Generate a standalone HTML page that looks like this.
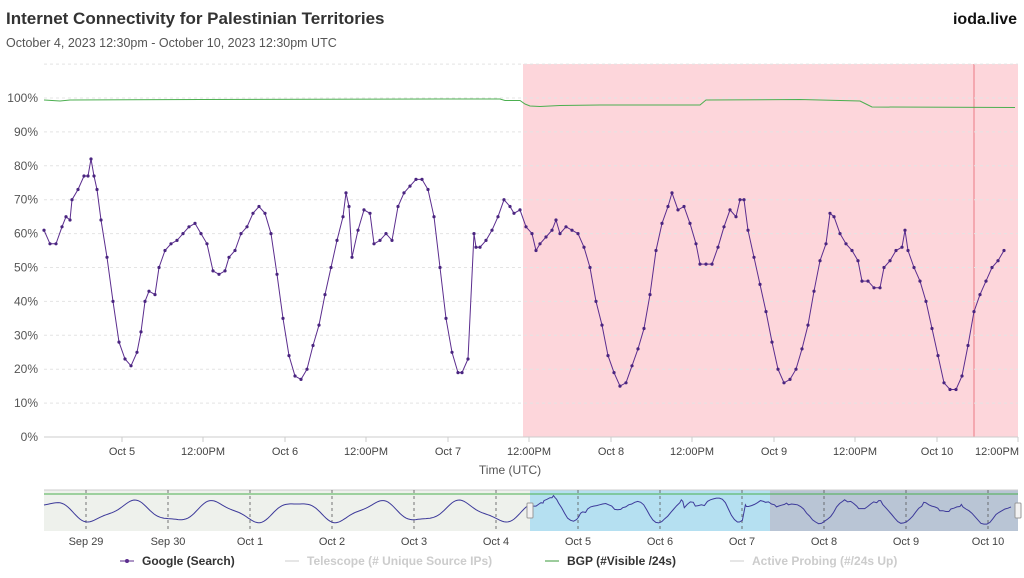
<!DOCTYPE html>
<html><head><meta charset="utf-8"><style>
body{margin:0;width:1024px;height:573px;background:#fff;font-family:"Liberation Sans",sans-serif;overflow:hidden}
</style></head><body>
<svg id="s" width="1024" height="573" xmlns="http://www.w3.org/2000/svg" font-family="Liberation Sans, sans-serif">
<text x="6" y="24" font-size="17" font-weight="bold" fill="#333">Internet Connectivity for Palestinian Territories</text>
<text x="6" y="47" font-size="12.5" fill="#555">October 4, 2023 12:30pm - October 10, 2023 12:30pm UTC</text>
<text x="1017" y="24" font-size="16" font-weight="bold" fill="#111" text-anchor="end">ioda.live</text>
<rect x="523" y="64" width="495" height="373" fill="#fdd6db"/>
<rect x="973" y="64" width="2" height="373" fill="#f4a8b0"/>
<g id="grid"></g>
<g id="main"></g>
<text x="510" y="474" font-size="12" fill="#555" text-anchor="middle">Time (UTC)</text>
<rect x="44" y="490" width="486" height="41" fill="#eef1ec"/>
<rect x="530" y="490" width="240" height="41" fill="#b5e0f1"/>
<rect x="770" y="490" width="248" height="41" fill="#b9c5d5"/>
<line x1="44" y1="490" x2="1018" y2="490" stroke="#ccc"/>
<g id="nav"></g>
<rect x="527" y="503" width="6" height="15" fill="#f2f2f2" stroke="#999" rx="1"/>
<rect x="1015" y="503" width="6" height="15" fill="#f2f2f2" stroke="#999" rx="1"/>
<g font-size="12" font-weight="bold">
<line x1="120" y1="561" x2="134" y2="561" stroke="#5b2d8e"/><circle cx="127" cy="561" r="2" fill="#5b2d8e"/>
<text x="142" y="565" fill="#333">Google (Search)</text>
<line x1="285" y1="561" x2="299" y2="561" stroke="#ccc"/>
<text x="307" y="565" fill="#ccc">Telescope (# Unique Source IPs)</text>
<line x1="545" y1="561" x2="559" y2="561" stroke="#3a9a3a"/>
<text x="567" y="565" fill="#333">BGP (#Visible /24s)</text>
<line x1="730" y1="561" x2="744" y2="561" stroke="#ccc"/>
<text x="752" y="565" fill="#ccc">Active Probing (#/24s Up)</text>
</g>
</svg>
<script>
const NS="http://www.w3.org/2000/svg",s=document.getElementById('s');
function el(t,a,p){const e=document.createElementNS(NS,t);for(const k in a)e.setAttribute(k,a[k]);if(a.text){e.textContent=a.text;e.removeAttribute('text');}(p||s).appendChild(e);return e;}
const g=document.getElementById('grid'),m=document.getElementById('main'),nv=document.getElementById('nav');
const Y=p=>437-3.39*p;
for(let p=0;p<=110;p+=10){el('line',{x1:44,x2:1018,y1:Y(p),y2:Y(p),stroke:p==0?'#ccc':'#e4e4e4','stroke-dasharray':p==0?'':'3,3'},g);
 if(p<=100)el('text',{x:38,y:Y(p)+4,'font-size':12,fill:'#555','text-anchor':'end',text:p+'%'},g);}
const xl=[[122,'Oct 5'],[203,'12:00PM'],[285,'Oct 6'],[366,'12:00PM'],[448,'Oct 7'],[529,'12:00PM'],[611,'Oct 8'],[692,'12:00PM'],[774,'Oct 9'],[855,'12:00PM'],[937,'Oct 10'],[1018,'12:00PM']];
xl.forEach(([x,t],i)=>{el('line',{x1:x,x2:x,y1:437,y2:442,stroke:'#ccc'},g);el('text',{x:i==11?997:x,y:455,'font-size':11,fill:'#444','text-anchor':'middle',text:t},g);});
const bgp="44,100 60,101 70,100 200,99.5 440,99 500,99 505,100.5 520,100.5 525,104 530,106 540,106.5 560,105.5 600,105 700,105 706,100 800,99.5 860,101 866,104 872,107 1015,107.5";
el('polyline',{points:bgp,fill:'none',stroke:'#4caf50','stroke-width':1},m);
const k=[44,61,50,57,56,57,62,62,66,65,70,64,72,70,78,73,84,77,88,77,91,82,94,77,97,73,101,64,107,53,113,40,119,28,125,23,131,21,137,25,141,31,145,40,149,43,155,42,159,50,165,55,171,57,177,58,183,60,189,62,195,63,201,60,207,57,213,49,219,48,225,49,229,53,235,55,241,60,247,62,253,66,259,68,265,66,271,60,277,48,283,35,289,24,295,18,301,17,307,20,313,27,319,33,325,42,331,50,337,58,343,65,346,72,349,68,352,53,358,61,364,67,370,66,374,57,380,58,386,60,392,58,398,68,404,72,410,74,416,76,422,76,428,73,434,65,440,50,446,35,452,25,458,19,462,19,468,23,474,60,476,56,480,56,486,58,492,61,498,65,504,70,510,68,514,66,520,67,526,62,532,60,536,55,540,57,546,59,552,61,556,64,560,60,566,62,572,61,578,60,584,56,590,50,596,40,602,33,608,24,614,19,620,15,626,16,632,21,638,26,644,32,650,42,656,55,662,63,668,68,672,72,678,67,684,68,690,63,696,57,700,51,706,51,712,51,718,56,724,62,730,67,736,65,740,70,744,70,748,61,754,53,760,45,766,37,772,28,778,20,784,16,790,17,796,20,802,26,808,33,814,43,820,52,826,57,830,66,834,65,840,60,846,57,852,55,858,52,862,46,868,46,874,44,880,44,884,50,890,52,896,55,902,56,905,61,908,55,914,50,920,46,926,40,932,32,938,24,944,16,950,14,956,14,962,18,968,27,974,37,980,42,986,46,992,50,998,52,1004,55];
let pts=[];for(let i=0;i<k.length;i+=2)pts.push(k[i]+','+Y(k[i+1]).toFixed(1));
el('polyline',{points:pts.join(' '),fill:'none',stroke:'#5b2d8e','stroke-width':1},m);
for(let i=0;i<k.length;i+=2)el('circle',{cx:k[i],cy:Y(k[i+1]).toFixed(1),r:1.6,fill:'#4a2580'},m);
el('line',{x1:44,x2:1018,y1:494,y2:494,stroke:'#4caf50'},nv);
const nl=[[86,'Sep 29'],[168,'Sep 30'],[250,'Oct 1'],[332,'Oct 2'],[414,'Oct 3'],[496,'Oct 4'],[578,'Oct 5'],[660,'Oct 6'],[742,'Oct 7'],[824,'Oct 8'],[906,'Oct 9'],[988,'Oct 10']];
nl.forEach(([x,t])=>{el('line',{x1:x,x2:x,y1:490,y2:531,stroke:'#555','stroke-dasharray':'3,3','stroke-width':0.8},nv);el('text',{x:x,y:545,'font-size':11,fill:'#444','text-anchor':'middle',text:t},nv);});
let np=[];
for(let x=44;x<=530;x+=2){const ph=(x-92)/82*2*Math.PI;const v=0.55-0.32*Math.cos(ph)+0.07*Math.sin(ph*2.3);np.push(x+','+(528-30*Math.max(0.05,Math.min(1,v))).toFixed(1));}
for(let i=0;i<k.length;i+=2){const x=530+(k[i]-44)*(488/974);np.push(x.toFixed(1)+','+(530-k[i+1]*0.42).toFixed(1));}
el('polyline',{points:np.join(' '),fill:'none',stroke:'#3d3a9a','stroke-width':1},nv);
</script>
</body></html>
